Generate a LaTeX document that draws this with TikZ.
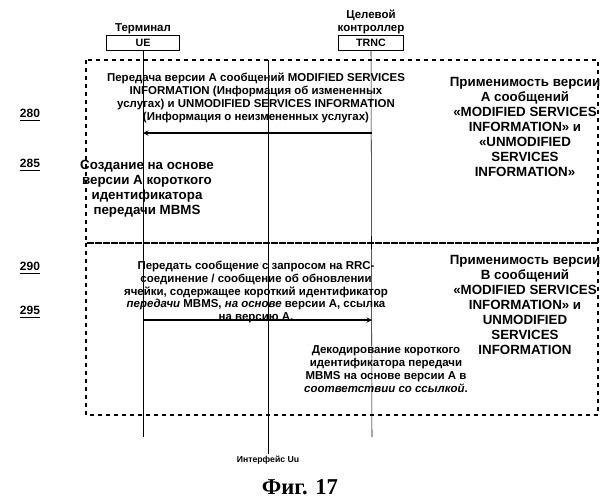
\documentclass[tikz,border=0pt]{standalone}
\usepackage{fontspec}
\setmainfont{Liberation Sans}
\newfontfamily\figfont{Liberation Serif}
\usetikzlibrary{positioning}

\begin{document}
\begin{tikzpicture}[
    x=0.75pt, y=-0.75pt,
    txt/.style={font=\bfseries\fontsize{8.6}{9.6}\selectfont, align=center, inner sep=1pt},
    bigtxt/.style={txt, font=\bfseries\fontsize{10}{11.2}\selectfont},
    entbox/.style={rectangle, draw, minimum width=55pt, minimum height=11pt, inner sep=0pt, font=\bfseries\fontsize{8}{9}\selectfont},
    steplabel/.style={font=\bfseries\fontsize{9}{10}\selectfont},
    frame/.style={draw, dashed, thick},
    arrow/.style={->, >=stealth, thick}
]
\useasboundingbox (0,0) rectangle (604,500);

% Entities
\node[entbox] (ue) at (143,43) {UE};
\node[txt, above=0pt of ue] (uelab) {Терминал};
\node[entbox, minimum width=49pt] (trnc) at (371,43) {TRNC};
\node[txt, above=0pt of trnc] (trnclab) {Целевой\\контроллер};

% Lifelines
\coordinate (ueend) at (143,437);
\coordinate (trncend) at (372,437);
\coordinate (uutop) at (268,60);
\node[txt, font=\bfseries\fontsize{6.5}{8}\selectfont] (uu) at (268,460) {Интерфейс Uu};
\draw (ue.south) -- (ueend);
\draw (trnc.south) -- (trncend);
\draw (uutop) -- (uu.north);

% Frames
\draw[frame] (86,60) rectangle (598,243);
\draw[frame] (86,243) rectangle (598,415);

% Step labels
\node[steplabel] (s280) at (30,115) {\underline{280}};
\node[steplabel] (s285) at (30,165) {\underline{285}};
\node[steplabel] (s290) at (30,268) {\underline{290}};
\node[steplabel] (s295) at (30,312) {\underline{295}};

% Messages
\node[txt] (m1) at (256,98) {Передача версии A сообщений MODIFIED SERVICES\\INFORMATION (Информация об измененных\\услугах) и UNMODIFIED SERVICES INFORMATION\\(Информация о неизмененных услугах)};
\coordinate (a1s) at (372,133);
\coordinate (a1e) at (143,133);
\draw[arrow] (a1s) -- (a1e);

\node[bigtxt] (n1) at (147,189) {Создание на основе\\версии А короткого\\идентификатора\\передачи MBMS};
\node[bigtxt] (r1) at (525,127) {Применимость версии\\А сообщений\\«MODIFIED SERVICES\\INFORMATION» и\\«UNMODIFIED\\SERVICES\\INFORMATION»};

\node[txt] (m2) at (256,292) {Передать сообщение с запросом на RRC-\\соединение / сообщение об обновлении\\ячейки, содержащее короткий идентификатор\\\textit{передачи} MBMS, \textit{на основе} версии А, ссылка\\на версию А.};
\coordinate (a2s) at (143,320);
\coordinate (a2e) at (372,320);
\draw[arrow] (a2s) -- (a2e);

\node[txt] (n2) at (386,369) {Декодирование короткого\\идентификатора передачи\\MBMS на основе версии А в\\\textit{соответствии со ссылкой}.};
\node[bigtxt] (r2) at (525,305) {Применимость версии\\В сообщений\\«MODIFIED SERVICES\\INFORMATION» и\\UNMODIFIED\\SERVICES\\INFORMATION};

\node[font=\figfont\bfseries\fontsize{17}{18}\selectfont] (fig) at (300,487) {Фиг. 17};
\end{tikzpicture}
\end{document}
